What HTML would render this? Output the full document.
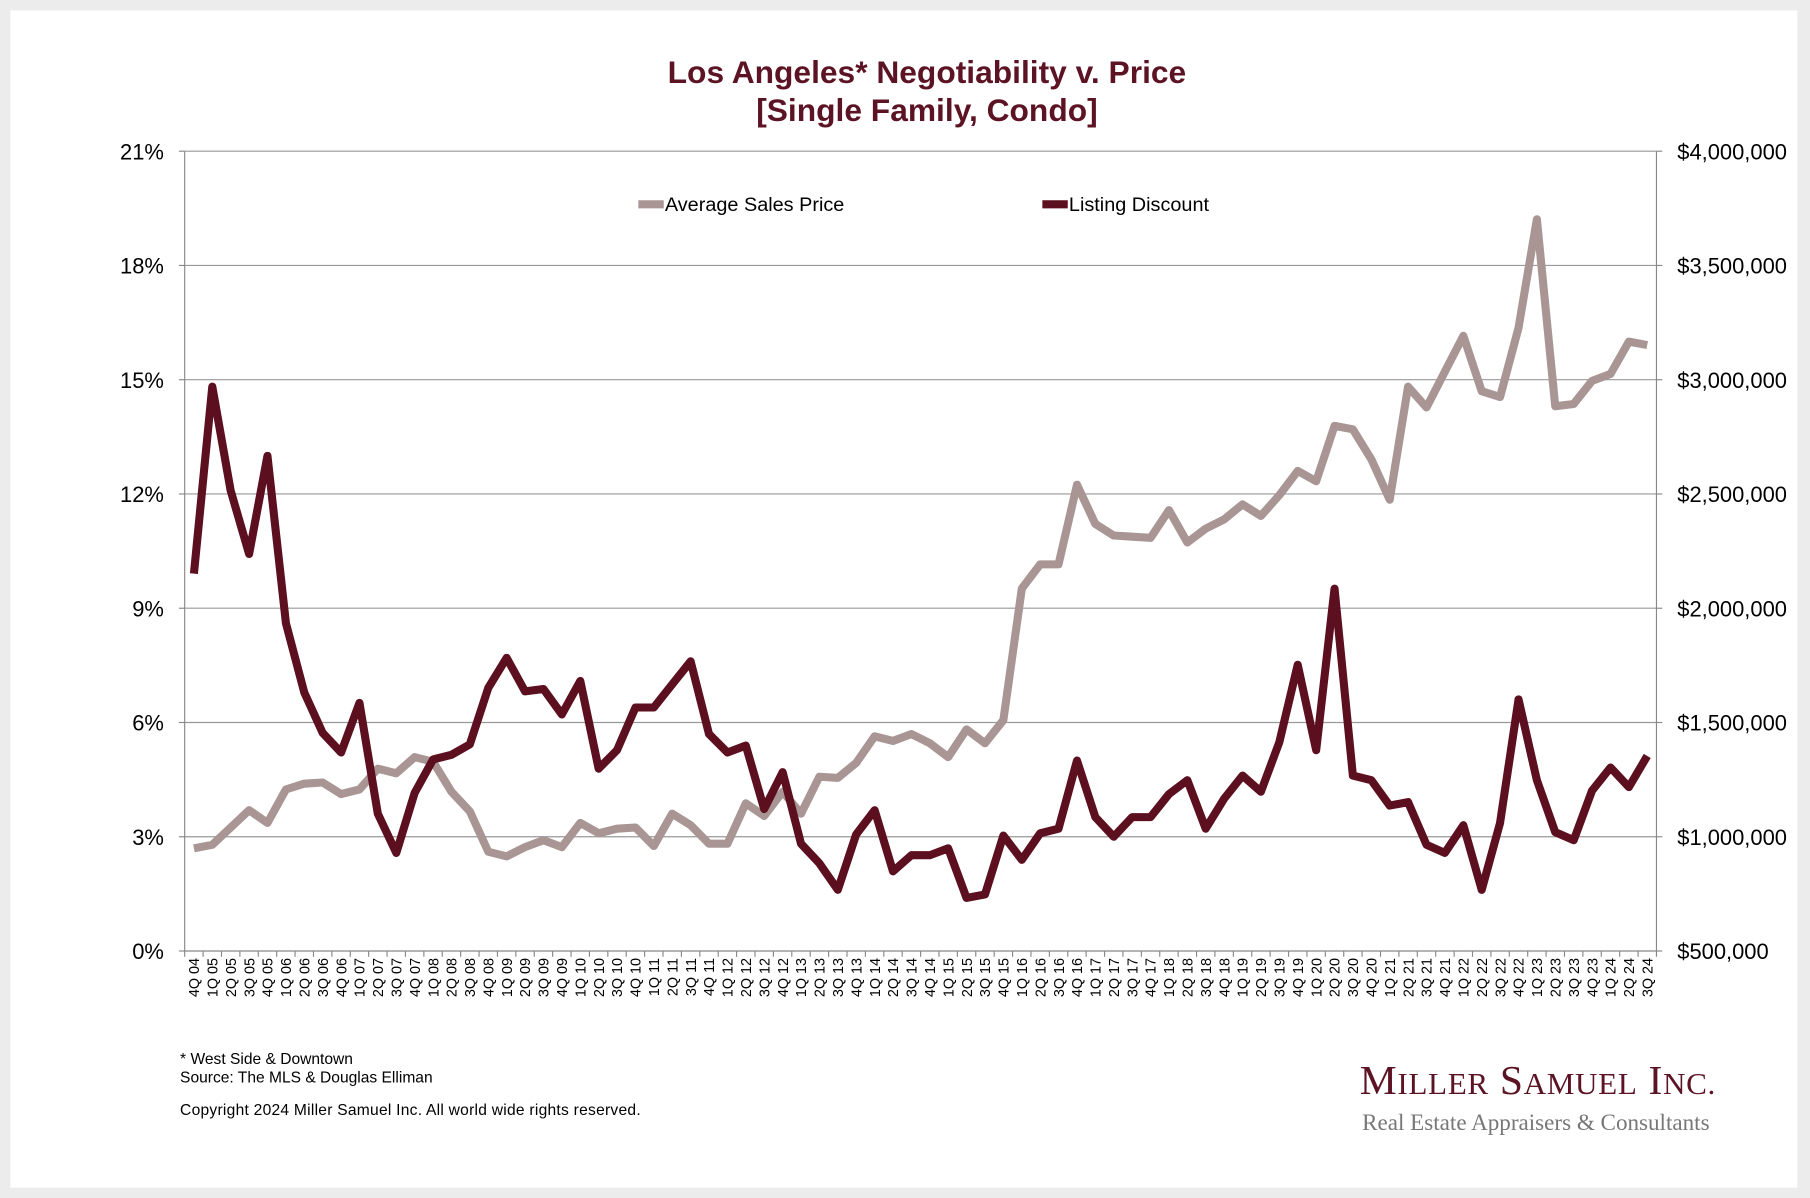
<!DOCTYPE html>
<html><head><meta charset="utf-8"><style>
html,body{margin:0;padding:0;background:#ececec;}
svg{display:block}
</style></head><body>
<svg id="s" width="1810" height="1198" viewBox="0 0 1568 1038" preserveAspectRatio="none" xmlns="http://www.w3.org/2000/svg" font-family="Liberation Sans, Arial, sans-serif">
<rect x="0" y="0" width="1568" height="1038" fill="#ececec"/>
<rect x="9" y="9" width="1548" height="1020" fill="#fff"/>
<text x="803" y="72" text-anchor="middle" font-size="27.5" font-weight="bold" fill="#5c1424">Los Angeles* Negotiability v. Price</text>
<text x="803" y="105" text-anchor="middle" font-size="27.5" font-weight="bold" fill="#5c1424">[Single Family, Condo]</text>
<g id="grid"></g>
<g id="series"></g>
<line x1="553" y1="177" x2="575" y2="177" stroke="#a89594" stroke-width="7"/>
<text x="576" y="183" font-size="17.2" fill="#000">Average Sales Price</text>
<line x1="903" y1="177" x2="925" y2="177" stroke="#5c0f1e" stroke-width="7"/>
<text x="926" y="183" font-size="17.2" fill="#000">Listing Discount</text>
<text x="156" y="922" font-size="13.5">* West Side &amp; Downtown</text>
<text x="156" y="938" font-size="13.5">Source: The MLS &amp; Douglas Elliman</text>
<text x="156" y="966" font-size="13.5" textLength="399">Copyright 2024 Miller Samuel Inc.  All world wide rights reserved.</text>
<text x="1178" y="948" font-family="Liberation Serif, serif" font-size="36" fill="#5c1424" textLength="308">M<tspan font-size="27">ILLER</tspan> S<tspan font-size="27">AMUEL</tspan> I<tspan font-size="27">NC.</tspan></text>
<text x="1180" y="979" font-family="Liberation Serif, serif" font-size="20" fill="#777" textLength="301">Real Estate Appraisers &amp; Consultants</text>
</svg>
<script>
const NS="http://www.w3.org/2000/svg";
const g=document.getElementById('grid'),se=document.getElementById('series');
function el(t,a,p,txt){const e=document.createElementNS(NS,t);for(const k in a)e.setAttribute(k,a[k]);if(txt!==undefined)e.textContent=txt;p.appendChild(e);return e;}
const L=160,R=1435,T=131,B=824;
const pl=['0%','3%','6%','9%','12%','15%','18%','21%'];
const pr=['$500,000','$1,000,000','$1,500,000','$2,000,000','$2,500,000','$3,000,000','$3,500,000','$4,000,000'];
for(let i=0;i<8;i++){const y=B-i*99;
 if(i>0)el('line',{x1:L,x2:R,y1:y,y2:y,stroke:'#999','stroke-width':1},g);
 el('line',{x1:L-5,x2:L,y1:y,y2:y,stroke:'#888'},g);
 el('line',{x1:R,x2:R+5,y1:y,y2:y,stroke:'#888'},g);
 el('text',{x:L-18,y:y+7,'text-anchor':'end','font-size':19},g,pl[i]);
 el('text',{x:R+18,y:y+7,'font-size':19},g,pr[i]);}
el('line',{x1:L,x2:L,y1:T,y2:B,stroke:'#888'},g);
el('line',{x1:R,x2:R,y1:T,y2:B,stroke:'#888'},g);
el('line',{x1:L,x2:R,y1:B,y2:B,stroke:'#888'},g);
const dx=(R-L)/80;
const qs=['1Q','2Q','3Q','4Q'];
for(let i=0;i<=80;i++){const x=L+i*dx;el('line',{x1:x,x2:x,y1:B,y2:B+5,stroke:'#888'},g);}
for(let i=0;i<80;i++){const q=(3+i)%4,yr=4+Math.floor((3+i)/4);const x=L+(i+0.5)*dx;
 el('text',{transform:`translate(${x+4.5},${B+6}) rotate(-90)`,'text-anchor':'end','font-size':12.5},g,qs[q]+' '+String(yr).padStart(2,'0'));}
const ld=[497,335,425,480,395,540,600,635,652,609,705,739,687,658,654,645,596,570,599,597,619,590,666,650,613,613,593,573,636,652,646,701,669,731,748,771,723,702,755,741,741,735,778,775,724,745,722,718,659,708,725,708,708,688,676,718,692,672,686,643,576,650,510,672,676,698,695,732,739,715,771,713,606,676,721,728,685,665,682,655];
const ap=[735,732,717,702,713,684,679,678,688,684,666,670,656,660,686,703,738,742,734,728,734,713,722,718,717,733,705,715,731,731,696,707,686,705,673,674,661,638,642,636,644,656,632,644,624,510,489,489,420,454,464,465,466,442,470,458,450,437,447,429,408,417,369,372,398,433,335,353,322,291,339,344,284,190,352,350,330,324,296,299];
function pts(a){return a.map((y,i)=>(L+(i+0.5)*dx).toFixed(1)+','+y).join(' ');}
el('polyline',{points:pts(ap),fill:'none',stroke:'#a89594','stroke-width':7,'stroke-linejoin':'round'},se);
el('polyline',{points:pts(ld),fill:'none',stroke:'#5c0f1e','stroke-width':7,'stroke-linejoin':'round'},se);
</script>
</body></html>
